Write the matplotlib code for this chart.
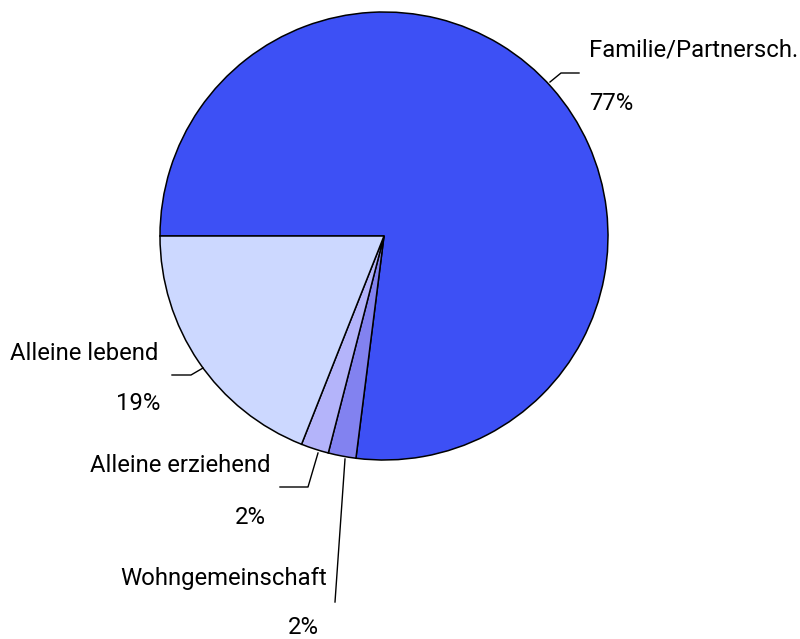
import matplotlib

matplotlib.use("Agg")

import matplotlib.pyplot as plt

# Household types, clockwise from the 9 o'clock position
labels = ["Familie/Partnersch.", "Wohngemeinschaft", "Alleine erziehend", "Alleine lebend"]
shares = [77, 2, 2, 19]
colors = ["#3d50f5", "#8282f0", "#b4b4fa", "#ccd8ff"]

plt.rcParams["font.family"] = ["Roboto", "DejaVu Sans"]

W, H = 800, 639
fig = plt.figure(figsize=(8.0, 6.39), dpi=100)
ax = fig.add_axes([0, 0, 1, 1])


def py(y):
    # pixel row (from top) -> data y
    return H - y


ax.pie(shares, colors=colors, startangle=180, counterclock=False,
       center=(384, py(236)), radius=224, frame=True,
       wedgeprops=dict(edgecolor="black", linewidth=1.1))
ax.set_xlim(0, W)
ax.set_ylim(0, H)
ax.set_aspect("equal")
ax.axis("off")

fs = 17.2
line = dict(color="black", lw=1.0)

# Familie/Partnersch.
ax.plot([550, 561, 579], [py(82), py(73), py(73)], **line)
ax.text(589, py(50), labels[0], fontsize=fs, ha="left", va="center")
ax.text(589, py(104), f"{shares[0]}%", fontsize=fs, ha="left", va="center")

# Alleine lebend
ax.plot([203, 191, 172], [py(368), py(375), py(375)], **line)
ax.text(10, py(354), labels[3], fontsize=fs, ha="left", va="center")
ax.text(160, py(403), f"{shares[3]}%", fontsize=fs, ha="right", va="center")

# Alleine erziehend
ax.plot([318, 308, 280], [py(453), py(487), py(487)], **line)
ax.text(271, py(465), labels[2], fontsize=fs, ha="right", va="center")
ax.text(266, py(517), f"{shares[2]}%", fontsize=fs, ha="right", va="center")

# Wohngemeinschaft
ax.plot([345, 335], [py(459), py(602)], **line)
ax.text(327, py(578), labels[1], fontsize=fs, ha="right", va="center")
ax.text(319, py(628), f"{shares[1]}%", fontsize=fs, ha="right", va="center")

fig.savefig("out.png", dpi=100)
